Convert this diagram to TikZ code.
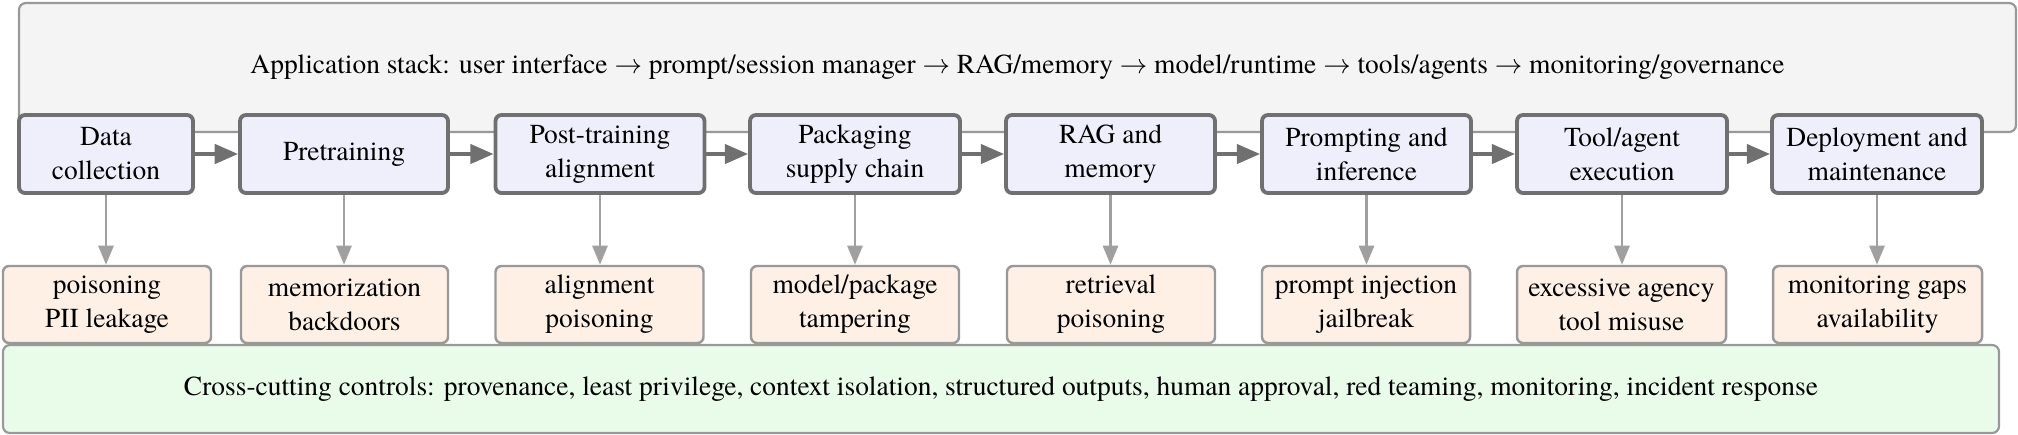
\documentclass[tikz,border=0pt]{standalone}
\usepackage{fontspec}
\setmainfont{TeX Gyre Termes}
\usetikzlibrary{arrows.meta}
\newcommand\pxu{0.3643pt}
\definecolor{stagefill}{RGB}{239,239,252}
\definecolor{stagedraw}{RGB}{112,112,112}
\definecolor{riskfill}{RGB}{254,240,228}
\definecolor{lightdraw}{RGB}{153,153,153}
\definecolor{appfill}{RGB}{244,244,244}
\definecolor{ctrlfill}{RGB}{233,252,233}
\definecolor{downarrow}{RGB}{160,160,160}
\tikzset{
  txt/.style={font=\fontsize{10pt}{12.4pt}\selectfont, align=center, inner sep=0pt},
  stagebox/.style={txt, draw=stagedraw, fill=stagefill, line width=1.4pt, rounded corners=2.2pt, minimum height=78*\pxu},
  riskbox/.style={txt, draw=lightdraw, fill=riskfill, line width=0.9pt, rounded corners=2.2pt, minimum height=77*\pxu},
  bandbox/.style={txt, draw=lightdraw, line width=0.8pt, rounded corners=2.5pt},
  flow/.style={draw=stagedraw, line width=1.4pt, -{Triangle[length=8.5pt,width=7pt]}},
  threat/.style={draw=downarrow, line width=1pt, -{Triangle[length=7pt,width=5.5pt]}},
}
\begin{document}
\begin{tikzpicture}[x=\pxu, y=-\pxu]
\useasboundingbox (0,0) rectangle (2018,434);
% application stack band (behind stages)
\node[bandbox, fill=appfill, minimum width=1997*\pxu, minimum height=129*\pxu] (app) at (1017.5,67.5)
  {Application stack: user interface $\rightarrow$ prompt/session manager $\rightarrow$ RAG/memory $\rightarrow$ model/runtime $\rightarrow$ tools/agents $\rightarrow$ monitoring/governance};
% controls band
\node[bandbox, fill=ctrlfill, minimum width=1996*\pxu, minimum height=88*\pxu] (ctrl) at (1001,389)
  {Cross-cutting controls: provenance, least privilege, context isolation, structured outputs, human approval, red teaming, monitoring, incident response};
% stages
\node[stagebox, minimum width=174*\pxu] (s1) at (106,154) {Data\\collection};
\node[stagebox, minimum width=208*\pxu] (s2) at (344,154) {Pretraining};
\node[stagebox, minimum width=209*\pxu] (s3) at (600,154) {Post-training\\alignment};
\node[stagebox, minimum width=210*\pxu] (s4) at (855,154) {Packaging\\supply chain};
\node[stagebox, minimum width=209*\pxu] (s5) at (1110.5,154) {RAG and\\memory};
\node[stagebox, minimum width=209*\pxu] (s6) at (1366.5,154) {Prompting and\\inference};
\node[stagebox, minimum width=210*\pxu] (s7) at (1622,154) {Tool/agent\\execution};
\node[stagebox, minimum width=210*\pxu] (s8) at (1877,154) {Deployment and\\maintenance};
% risks
\node[riskbox, minimum width=208*\pxu] (r1) at (107,304.5) {poisoning\\PII leakage};
\node[riskbox, minimum width=207*\pxu] (r2) at (344.5,304.5) {memorization\\backdoors};
\node[riskbox, minimum width=208*\pxu] (r3) at (599.5,304.5) {alignment\\poisoning};
\node[riskbox, minimum width=208*\pxu] (r4) at (855,304.5) {model/package\\tampering};
\node[riskbox, minimum width=208*\pxu] (r5) at (1111,304.5) {retrieval\\poisoning};
\node[riskbox, minimum width=208*\pxu] (r6) at (1366,304.5) {prompt injection\\jailbreak};
\node[riskbox, minimum width=209*\pxu] (r7) at (1621.5,304.5) {excessive agency\\tool misuse};
\node[riskbox, minimum width=209*\pxu] (r8) at (1877.5,304.5) {monitoring gaps\\availability};
% flow arrows
\foreach \a/\b in {s1/s2,s2/s3,s3/s4,s4/s5,s5/s6,s6/s7,s7/s8}
  \draw[flow] (\a.east) -- (\b.west);
% threat arrows
\foreach \i in {1,...,8}
  \draw[threat] (s\i.south) -- (s\i.south |- r\i.north);
\end{tikzpicture}
\end{document}
